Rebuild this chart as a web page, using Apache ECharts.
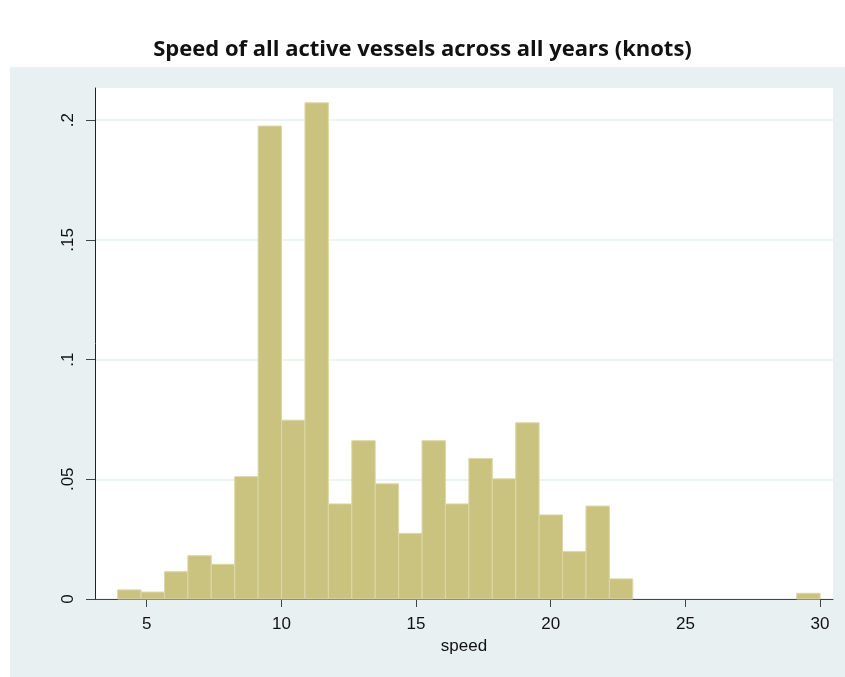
<!DOCTYPE html>
<html>
<head>
<meta charset="utf-8">
<script src="https://cdn.jsdelivr.net/npm/echarts@6/dist/echarts.min.js"></script>
<style>
html,body{margin:0;padding:0;background:#fff;}
#chart{width:845px;height:677px;}
</style>
</head>
<body>
<div id="chart"></div>
<script>
// Histogram bins (speed, knots)
const binStart = 3.92;
const binWidth = 0.8694;
// Density per bin
const densities = [
  0.0038, 0.0029, 0.0114, 0.0181, 0.0145, 0.0511, 0.1975, 0.0747,
  0.2072, 0.0397, 0.0661, 0.0481, 0.0274, 0.0661, 0.0397, 0.0587,
  0.0502, 0.0736, 0.0351, 0.0198, 0.0388, 0.0084, 0, 0,
  0, 0, 0, 0, 0, 0.0024
];
const xTicks = [5, 10, 15, 20, 25, 30];
const yTicks = [0, 0.05, 0.1, 0.15, 0.2];
const yTickLabels = ['0', '.05', '.1', '.15', '.2'];
const titleText = 'Speed of all active vessels across all years (knots)';
const xName = 'speed';

const histData = densities.map((d, i) => [binStart + i * binWidth, binStart + (i + 1) * binWidth, d]);

const chart = echarts.init(document.getElementById('chart'), null, {renderer: 'canvas'});
chart.setOption({
  animation: false,
  backgroundColor: '#ffffff',
  graphic: [{
    type: 'rect', z: -10, silent: true,
    shape: {x: 10, y: 67, width: 835, height: 610},
    style: {fill: '#e8f0f2'}
  }],
  title: {
    text: titleText,
    left: 'center', top: 34,
    textStyle: {fontFamily: 'Open Sans', fontWeight: 'bold', fontSize: 22, color: '#111'}
  },
  grid: {
    left: 95, top: 88, width: 738, height: 511,
    show: true, backgroundColor: '#ffffff', borderWidth: 0
  },
  xAxis: {
    type: 'value', min: 3.08, max: 30.48,
    name: xName, nameLocation: 'middle', nameGap: 39,
    nameTextStyle: {fontFamily: 'Liberation Sans', fontSize: 17, color: '#111'},
    axisLine: {show: true, onZero: false, lineStyle: {color: '#444', width: 1}},
    axisTick: {show: true, length: 8, customValues: xTicks, lineStyle: {color: '#444'}},
    axisLabel: {customValues: xTicks, margin: 17, fontFamily: 'Liberation Sans', fontSize: 17, color: '#111'},
    splitLine: {show: false}
  },
  yAxis: {
    type: 'value', min: 0, max: 0.2134, interval: 0.05,
    axisLine: {show: true, lineStyle: {color: '#222', width: 1}},
    axisTick: {show: true, length: 9, customValues: yTicks, lineStyle: {color: '#444'}},
    axisLabel: {
      customValues: yTicks, rotate: 90, margin: 18,
      fontFamily: 'Liberation Sans', fontSize: 17, color: '#111',
      formatter: (v) => { const i = yTicks.findIndex(t => Math.abs(t - v) < 1e-9); return i >= 0 ? yTickLabels[i] : ''; }
    },
    splitLine: {show: true, lineStyle: {color: '#e6eff1', width: 1.5}}
  },
  series: [{
    type: 'custom',
    data: histData,
    encode: {x: [0, 1], y: 2},
    renderItem: function (params, api) {
      const p0 = api.coord([api.value(0), api.value(2)]);
      const p1 = api.coord([api.value(1), 0]);
      if (api.value(2) <= 0) return null;
      return {
        type: 'rect',
        shape: {x: p0[0], y: p0[1], width: p1[0] - p0[0], height: p1[1] - p0[1]},
        style: {fill: '#cac380', stroke: '#dcd7a6', lineWidth: 1}
      };
    }
  }]
});
</script>
</body>
</html>
